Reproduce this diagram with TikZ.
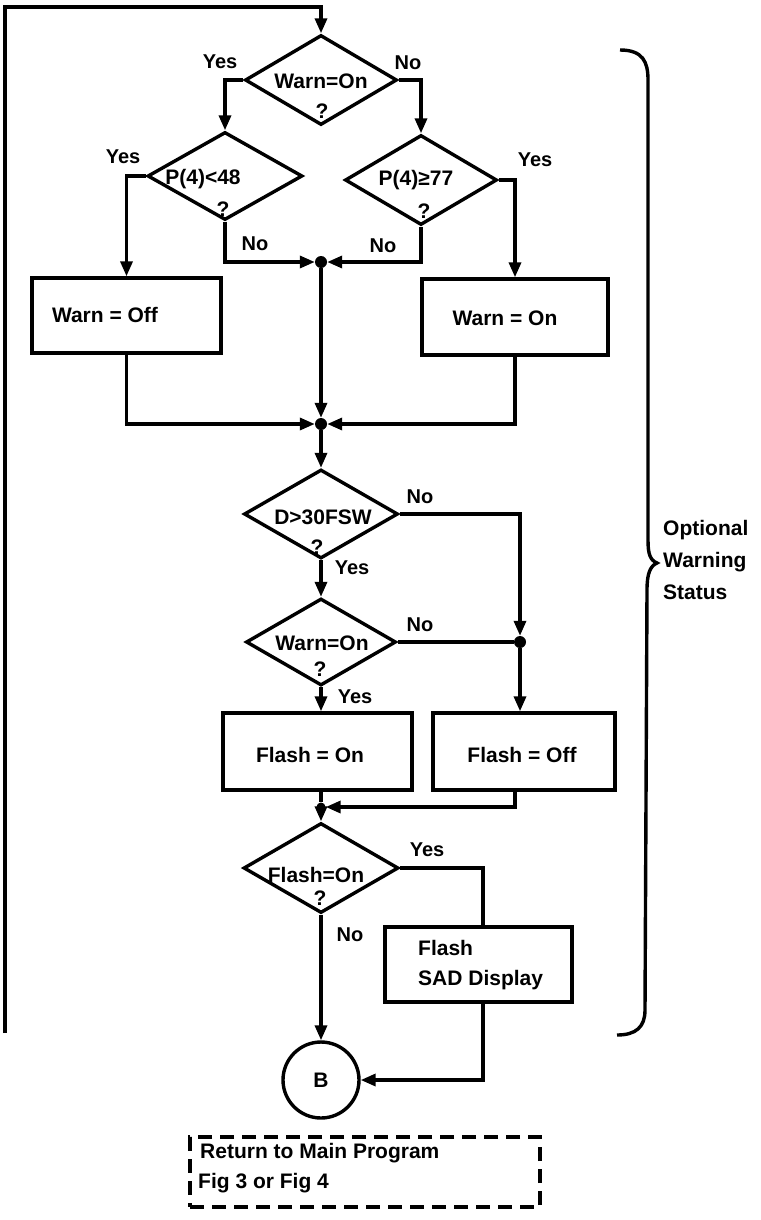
\documentclass[tikz,border=0pt]{standalone}
\usepackage{fontspec}
\setmainfont{Liberation Sans}
\usetikzlibrary{shapes.geometric,arrows.meta,calc}
\begin{document}
\begin{tikzpicture}[x=1pt,y=-1pt,
  every node/.style={font=\fontsize{21}{24}\selectfont\bfseries},
  ln/.style={line width=3.4pt, line join=miter},
  arr/.style={ln, -{Triangle[length=15pt,width=12pt]}},
  dec/.style={diamond, draw, line width=3.4pt, inner sep=0pt, minimum width=152pt, minimum height=90pt},
  proc/.style={rectangle, draw, line width=3.4pt, inner sep=0pt},
  jdot/.style={circle, fill, inner sep=0pt, minimum size=12pt},
  txt/.style={inner sep=0pt, anchor=center},
  lbl/.style={inner sep=0pt, anchor=center, font=\fontsize{20}{24}\selectfont\bfseries},
  ltxt/.style={inner sep=0pt, anchor=west},
]
\useasboundingbox (0,0) rectangle (760,1220);

% decisions
\node[dec] (d1) at (321,80) {};
\node[txt] (t1) at (321,81) {Warn=On};
\node[txt] (q1) at (322,111) {?};
\node[dec, minimum width=155pt, minimum height=88pt] (d2) at (225,176) {};
\node[txt] (t2) at (203,179) {P(4)<48};
\node[txt] (q2) at (223,209) {?};
\node[dec] (d3) at (421,180) {};
\node[txt] (t3) at (416,180) {P(4)≥77};
\node[txt] (q3) at (424,211) {?};

% first boxes
\node[proc, minimum width=189pt, minimum height=75pt] (b1) at (126.5,315.5) {};
\node[txt] (tb1) at (105,315) {Warn = Off};
\node[proc, minimum width=186pt, minimum height=76pt] (b2) at (515,317) {};
\node[txt] (tb2) at (505,318) {Warn = On};

% junctions
\node[jdot] (j1) at (321,262) {};
\node[jdot] (j2) at (321,424) {};

\coordinate (loopend) at (5,1033);
\coordinate (looptop) at (5,7);
\draw[arr] (loopend) -- (looptop) -| (d1.north);

\draw[arr] (d1.west) -| (d2.north);
\draw[arr] (d1.east) -| (d3.north);
\draw[arr] (d2.west) -| (b1.north);
\draw[arr] (d3.east) -| (b2.north);
\draw[arr] (d2.south) |- (j1);
\draw[arr] (d3.south) |- (j1);
\draw[arr] (j1) -- (j2);
\draw[arr] (b1.south) |- (j2);
\draw[arr] (b2.south) |- (j2);

% second part
\node[dec, minimum width=154pt, minimum height=89pt] (d4) at (321,514) {};
\node[txt] (t4) at (323,517) {D>30FSW};
\node[txt] (q4) at (317,547) {?};
\node[dec, minimum width=150pt, minimum height=87pt] (d5) at (321,642) {};
\node[txt] (t5) at (322,643) {Warn=On};
\node[txt] (q5) at (320,669) {?};
\node[jdot] (j3) at (520,642) {};

\draw[arr] (j2) -- (d4.north);
\draw[arr] (d4.south) -- (d5.north);
\draw[arr] (d4.east) -| (j3);
\draw[ln] (d5.east) -- (j3);

\node[proc, minimum width=189pt, minimum height=77pt] (b3) at (317.5,751.5) {};
\node[txt] (tb3) at (310,755) {Flash = On};
\node[proc, minimum width=182pt, minimum height=77pt] (b4) at (524,751.5) {};
\node[txt] (tb4) at (522,755) {Flash = Off};

\draw[arr] (j3) -- (j3 |- b4.north);
\draw[arr] (d5.south) -- (d5.south |- b3.north);

\node[jdot, minimum size=9pt] (j4) at (321,807) {};
\draw[ln] (j4 |- b3.south) -- (j4);
\draw[arr] ([xshift=-9pt]b4.south) |- (j4);

\node[dec, minimum width=155pt, minimum height=90pt] (d6) at (321,868) {};
\node[txt] (t6) at (316,875) {Flash=On};
\node[txt] (q6) at (320,898) {?};
\draw[arr] (j4) -- (d6.north);

\node[proc, minimum width=187pt, minimum height=75pt] (b5) at (478.5,964.5) {};
\node[ltxt] (tb5a) at (418,948) {Flash};
\node[ltxt] (tb5b) at (418,980) {SAD Display};

\node[circle, draw, line width=3.4pt, minimum size=76pt, inner sep=0pt] (B) at (321,1080) {B};
\draw[arr] (d6.south) -- (B);
\draw[ln] (d6.east) -| ([xshift=4.5pt]b5.north);
\draw[arr] ([xshift=4.5pt]b5.south) |- (B);

% return box
\node[draw, line width=4pt, dash pattern=on 14pt off 8pt, minimum width=350pt, minimum height=70pt, inner sep=0pt] (ret) at (365,1172) {};
\node[ltxt] (r1) at (200,1153) {Return to Main Program};
\node[ltxt] (r2) at (198,1183) {Fig 3 or Fig 4};

% labels
\node[lbl] (y1) at (220,62) {Yes};
\node[lbl] (n1) at (408,63) {No};
\node[lbl] (y2) at (123,157) {Yes};
\node[lbl] (n2) at (255,244) {No};
\node[lbl] (n3) at (383,246) {No};
\node[lbl] (y3) at (535,160) {Yes};
\node[lbl] (n4) at (420,497) {No};
\node[lbl] (y4) at (352,568) {Yes};
\node[lbl] (n5) at (420,625) {No};
\node[lbl] (y5) at (355,697) {Yes};
\node[lbl] (y6) at (427,850) {Yes};
\node[lbl] (n6) at (350,935) {No};

% brace
\draw[line width=3.4pt] (620,50) .. controls (643,50) and (648,62) .. (648,80)
  -- (648,540) .. controls (648,554) and (650,560) .. (657,563)
  .. controls (650,566) and (647,574) .. (647,590)
  -- (645,1010) .. controls (645,1027) and (636,1035) .. (617,1035);
\node[ltxt] (o1) at (663,530) {Optional};
\node[ltxt] (o2) at (663,562) {Warning};
\node[ltxt] (o3) at (663,592) {Status};
\end{tikzpicture}
\end{document}
